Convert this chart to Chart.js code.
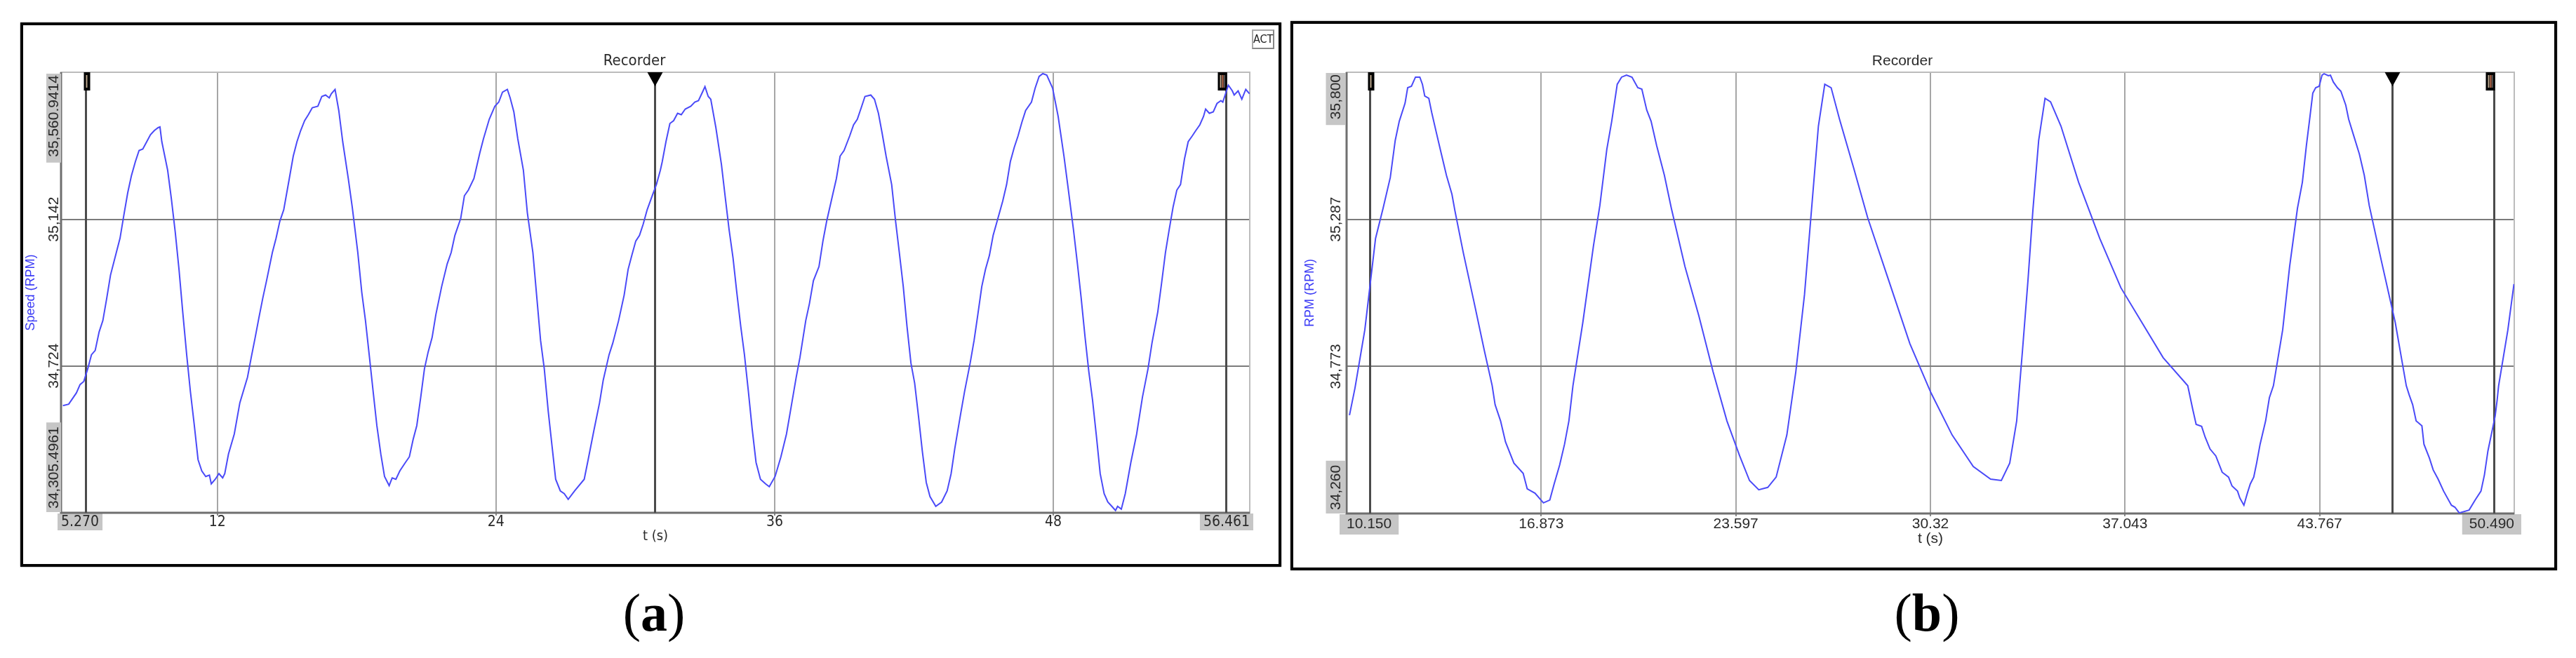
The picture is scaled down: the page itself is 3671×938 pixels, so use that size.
<!DOCTYPE html>
<html>
<head>
<meta charset="utf-8">
<script src="https://cdn.jsdelivr.net/npm/chart.js@4.4.1/dist/chart.umd.min.js"></script>
<style>
  html, body { margin: 0; padding: 0; background: #ffffff; }
  body { width: 3671px; height: 938px; position: relative; overflow: hidden; }
  canvas { position: absolute; left: 0; top: 0; }
  .panel { position: absolute; box-sizing: border-box; border: 4px solid #050505; box-shadow: 0 0 2px rgba(0,0,0,0.45); }
  .cap { position: absolute; font-family: 'Liberation Serif', 'Times New Roman', serif; font-size: 76px; line-height: 1; transform: translateX(-50%); white-space: nowrap; color: #000; }
  .cap b { font-weight: bold; }
  .act { position: absolute; left: 1784px; top: 42px; width: 32px; height: 28px; box-sizing: border-box; border: 2px solid #a8a8a8; border-right-color: #888; border-bottom-color: #888; font-family: 'Liberation Sans Narrow', 'DejaVu Sans Condensed', 'Liberation Sans', sans-serif; font-size: 16px; line-height: 24px; text-align: center; color: #222; }
</style>
</head>
<body>
<div class="panel" style="left:29px; top:32px; width:1797px; height:776px;"></div>
<div class="panel" style="left:1839px; top:30px; width:1805px; height:783px;"></div>
<canvas id="chartA" width="3671" height="938"></canvas>
<canvas id="chartB" width="3671" height="938"></canvas>
<div class="act">ACT</div>
<div class="cap" style="left:932px; top:835px;">(<b>a</b>)</div>
<div class="cap" style="left:2746px; top:835px;">(<b>b</b>)</div>

<script>
// ---------------- DATA ----------------
// Panel (a): Speed (RPM) versus t (s)
const speedA = [
  [5.35,34611],[5.60,34615],[5.93,34647],[6.09,34671],[6.25,34680],[6.42,34716],[6.58,34756],[6.74,34768],
  [6.91,34821],[7.07,34853],[7.24,34918],[7.40,34983],[7.65,35047],[7.81,35088],[7.97,35152],[8.14,35217],
  [8.30,35266],[8.47,35306],[8.63,35338],[8.79,35342],[8.96,35363],[9.12,35383],[9.29,35395],[9.45,35403],
  [9.53,35405],[9.61,35363],[9.86,35282],[10.02,35201],[10.19,35104],[10.35,34999],[10.51,34878],[10.68,34756],
  [10.84,34651],[11.01,34554],[11.17,34457],[11.33,34425],[11.50,34409],[11.66,34413],[11.74,34388],[11.91,34401],
  [12.07,34417],[12.23,34405],[12.32,34417],[12.48,34473],[12.73,34530],[12.97,34619],[13.30,34692],[13.46,34748],
  [13.63,34805],[13.79,34861],[13.96,34918],[14.12,34967],[14.37,35047],[14.53,35088],[14.69,35136],[14.86,35169],
  [15.10,35258],[15.27,35322],[15.43,35363],[15.59,35395],[15.76,35423],[15.92,35440],[16.09,35460],[16.33,35464],
  [16.50,35492],[16.66,35496],[16.82,35488],[16.91,35500],[17.07,35512],[17.23,35452],[17.40,35363],[17.64,35258],
  [17.81,35177],[18.05,35047],[18.22,34934],[18.38,34853],[18.54,34756],[18.71,34651],[18.87,34554],[19.04,34473],
  [19.20,34409],[19.40,34383],[19.53,34405],[19.69,34401],[19.86,34425],[20.10,34449],[20.27,34465],[20.43,34514],
  [20.59,34554],[20.76,34635],[20.92,34716],[21.08,34764],[21.25,34805],[21.41,34870],[21.66,34950],[21.90,35015],
  [22.07,35047],[22.23,35096],[22.48,35144],[22.64,35209],[22.81,35225],[23.05,35258],[23.30,35330],[23.46,35371],
  [23.71,35427],[23.95,35464],[24.12,35476],[24.28,35504],[24.49,35512],[24.61,35488],[24.77,35448],[24.94,35371],
  [25.18,35282],[25.35,35161],[25.59,35047],[25.76,34918],[25.92,34797],[26.08,34716],[26.25,34595],[26.41,34498],
  [26.57,34401],[26.77,34368],[26.94,34360],[27.11,34344],[27.39,34368],[27.80,34401],[27.97,34457],[28.21,34538],
  [28.46,34619],[28.62,34684],[28.87,34756],[29.03,34789],[29.28,34853],[29.52,34926],[29.69,34999],[29.85,35039],
  [30.02,35080],[30.18,35096],[30.34,35128],[30.51,35169],[30.75,35213],[30.91,35241],[31.08,35282],[31.16,35306],
  [31.32,35363],[31.49,35415],[31.65,35423],[31.82,35444],[31.98,35440],[32.15,35456],[32.39,35464],[32.56,35476],
  [32.72,35480],[32.89,35504],[33.00,35520],[33.14,35492],[33.25,35484],[33.47,35403],[33.71,35298],[33.88,35201],
  [34.04,35112],[34.21,35031],[34.37,34934],[34.54,34837],[34.70,34756],[34.87,34651],[35.03,34546],[35.20,34449],
  [35.39,34401],[35.61,34388],[35.77,34380],[36.02,34409],[36.27,34465],[36.51,34530],[36.68,34595],[36.93,34692],
  [37.09,34748],[37.34,34853],[37.50,34902],[37.67,34967],[37.91,35007],[38.08,35080],[38.24,35136],[38.49,35209],
  [38.66,35258],[38.82,35322],[38.99,35338],[39.23,35379],[39.40,35411],[39.56,35427],[39.73,35460],[39.89,35492],
  [40.14,35496],[40.30,35484],[40.47,35444],[40.63,35387],[40.80,35322],[41.04,35241],[41.21,35136],[41.37,35047],
  [41.54,34950],[41.70,34837],[41.87,34732],[42.03,34675],[42.20,34578],[42.36,34481],[42.53,34392],[42.69,34352],
  [42.94,34324],[43.19,34336],[43.43,34368],[43.60,34417],[43.76,34489],[44.01,34587],[44.18,34651],[44.42,34732],
  [44.59,34797],[44.75,34870],[44.92,34950],[45.08,34999],[45.25,35039],[45.41,35096],[45.58,35136],[45.82,35193],
  [45.99,35241],[46.15,35306],[46.32,35347],[46.48,35379],[46.65,35419],[46.81,35452],[47.06,35476],[47.22,35516],
  [47.39,35549],[47.55,35557],[47.72,35553],[47.97,35516],[48.21,35435],[48.46,35322],[48.62,35241],[48.87,35112],
  [49.04,35015],[49.20,34918],[49.37,34805],[49.53,34708],[49.69,34627],[49.86,34522],[50.02,34417],[50.19,34360],
  [50.35,34336],[50.52,34324],[50.68,34312],[50.77,34324],[50.93,34316],[51.10,34360],[51.34,34449],[51.59,34530],
  [51.84,34635],[52.08,34716],[52.25,34789],[52.50,34878],[52.66,34958],[52.83,35047],[52.99,35112],[53.16,35177],
  [53.32,35225],[53.48,35241],[53.65,35314],[53.81,35363],[53.98,35379],[54.14,35395],[54.31,35411],[54.47,35435],
  [54.56,35456],[54.72,35444],[54.89,35448],[55.05,35472],[55.22,35480],[55.30,35476],[55.46,35508],[55.54,35524],
  [55.71,35508],[55.79,35496],[55.96,35508],[56.12,35484],[56.29,35512],[56.45,35500]
];
const tickValsA = [5.270, 12, 24, 36, 48, 56.461];
const tickLabelsA = ['5.270', '12', '24', '36', '48', '56.461'];
const yTickValsA = [34305.4961, 34724, 35142, 35560.9414];
const yTickLabelsA = ['34,305.4961', '34,724', '35,142', '35,560.9414'];
const cursorsA = [6.34, 30.84, 55.42];

// Panel (b): RPM (RPM) versus t (s)
const rpmB = [
  [10.25,34603],[10.44,34698],[10.78,34901],[11.15,35220],[11.41,35325],[11.66,35433],[11.83,35562],[11.97,35629],
  [12.17,35692],[12.26,35746],[12.39,35751],[12.53,35783],[12.68,35783],[12.77,35758],[12.85,35717],[12.99,35709],
  [13.09,35660],[13.24,35594],[13.41,35521],[13.60,35440],[13.79,35374],[13.89,35318],[14.18,35171],[14.55,34999],
  [14.91,34828],[15.18,34706],[15.28,34640],[15.47,34583],[15.64,34510],[15.93,34436],[16.25,34400],[16.39,34346],
  [16.66,34331],[16.95,34297],[17.17,34307],[17.32,34363],[17.51,34429],[17.68,34502],[17.83,34583],[17.97,34706],
  [18.31,34926],[18.68,35195],[18.90,35335],[19.14,35531],[19.31,35629],[19.50,35758],[19.65,35783],[19.82,35790],
  [20.01,35783],[20.21,35746],[20.35,35741],[20.52,35668],[20.67,35629],[20.86,35545],[21.13,35440],[21.37,35325],
  [21.84,35122],[22.32,34950],[22.81,34755],[23.29,34583],[23.73,34461],[24.07,34375],[24.39,34343],[24.70,34351],
  [24.99,34387],[25.36,34534],[25.67,34755],[25.97,35024],[26.21,35318],[26.45,35612],[26.67,35758],[26.89,35746],
  [27.18,35636],[27.67,35465],[28.15,35293],[28.88,35073],[29.61,34853],[30.34,34681],[31.07,34534],[31.80,34424],
  [32.40,34380],[32.77,34375],[33.06,34436],[33.30,34583],[33.50,34828],[33.69,35073],[33.86,35318],[34.06,35562],
  [34.28,35709],[34.47,35697],[34.83,35612],[35.44,35416],[36.17,35220],[36.90,35048],[37.63,34926],[38.36,34804],
  [39.21,34706],[39.38,34625],[39.50,34571],[39.69,34564],[39.81,34527],[39.98,34485],[40.18,34461],[40.40,34404],
  [40.62,34387],[40.74,34356],[40.93,34338],[41.01,34314],[41.15,34289],[41.27,34331],[41.37,34363],[41.49,34387],
  [41.59,34436],[41.71,34502],[41.90,34583],[42.03,34664],[42.17,34706],[42.49,34901],[42.73,35122],[43.00,35325],
  [43.17,35416],[43.31,35545],[43.43,35643],[43.53,35727],[43.63,35746],[43.75,35751],[43.85,35790],[43.92,35795],
  [44.07,35788],[44.14,35790],[44.24,35766],[44.38,35746],[44.50,35734],[44.67,35685],[44.77,35636],[44.94,35580],
  [45.14,35514],[45.31,35440],[45.48,35335],[45.89,35146],[46.38,34926],[46.76,34706],[46.86,34674],[46.98,34640],
  [47.10,34583],[47.30,34566],[47.37,34502],[47.56,34453],[47.69,34412],[47.86,34380],[48.05,34338],[48.32,34289],
  [48.44,34282],[48.59,34262],[48.93,34272],[49.14,34307],[49.34,34338],[49.46,34395],[49.58,34478],[49.73,34551],
  [49.83,34600],[49.90,34657],[49.95,34706],[50.27,34901],[50.48,35061]
];
const tickValsB = [10.150, 16.873, 23.597, 30.32, 37.043, 43.767, 50.490];
const tickLabelsB = ['10.150', '16.873', '23.597', '30.32', '37.043', '43.767', '50.490'];
const yTickValsB = [34260, 34773.33, 35286.67, 35800];
const yTickLabelsB = ['34,260', '34,773', '35,287', '35,800'];
const cursorsB = [10.95, 46.28, 49.78];

const cursorKinds = ['left', 'tri', 'right'];

// ---------------- DECORATION PLUGIN ----------------
const recorderDecor = {
  id: 'recorderDecor',
  beforeDatasetsDraw(chart, args, o) {
    const { ctx, chartArea: a, scales: { x } } = chart;
    ctx.save();
    ctx.strokeStyle = '#bcbcbc';
    ctx.lineWidth = 2;
    ctx.strokeRect(a.left, a.top, a.right - a.left, a.bottom - a.top);
    ctx.strokeStyle = '#6f6f6f';
    ctx.lineWidth = 3;
    ctx.beginPath();
    ctx.moveTo(a.left, a.top);
    ctx.lineTo(a.left, a.bottom);
    ctx.lineTo(a.right, a.bottom);
    ctx.stroke();
    o.cursors.forEach((t, i) => {
      const px = Math.round(x.getPixelForValue(t)) + 0.5;
      ctx.strokeStyle = '#4b4b4b';
      ctx.lineWidth = 3;
      ctx.beginPath();
      ctx.moveTo(px, a.top);
      ctx.lineTo(px, a.bottom);
      ctx.stroke();
      const kind = cursorKinds[i];
      ctx.fillStyle = '#000';
      if (kind === 'tri') {
        ctx.beginPath();
        ctx.moveTo(px - 11, a.top);
        ctx.lineTo(px + 11, a.top);
        ctx.lineTo(px, a.top + 20);
        ctx.closePath();
        ctx.fill();
      } else {
        const w = kind === 'left' ? 9 : 13;
        const x0 = kind === 'left' ? px - 3 : px - 12;
        ctx.fillRect(x0, a.top, w, 26);
        ctx.fillStyle = '#b9a58c';
        if (kind === 'left') {
          ctx.fillRect(x0 + 3, a.top + 4, 2, 18);
        } else {
          ctx.fillRect(x0 + 3, a.top + 4, 2, 18);
          ctx.fillStyle = '#c07050';
          ctx.fillRect(x0 + 6, a.top + 4, 2, 18);
          ctx.fillStyle = '#9a9a9a';
          ctx.fillRect(x0 + 9, a.top + 4, 1, 18);
        }
      }
    });
    ctx.restore();
  },
  afterDraw(chart, args, o) {
    const { ctx, chartArea: a, scales: { y } } = chart;
    ctx.save();
    ctx.font = o.yFont;
    const last = o.yLabels.length - 1;
    o.yLabels.forEach((lab, i) => {
      const w = ctx.measureText(lab).width;
      let ay, align;
      if (i === 0) { ay = a.bottom - o.yEdgeInset[0]; align = 'left'; }
      else if (i === last) { ay = a.top + o.yEdgeInset[1]; align = 'right'; }
      else { ay = y.getPixelForValue(o.yVals[i]); align = 'center'; }
      ctx.save();
      ctx.translate(a.left + o.yLabelDX, ay);
      ctx.rotate(-Math.PI / 2);
      if (i === 0 || i === last) {
        ctx.fillStyle = '#c6c6c6';
        const hw = o.yBoxHalf;
        if (i === 0) ctx.fillRect(-5, -hw, w + 11, hw * 2);
        else ctx.fillRect(-w - 8, -hw, w + 10, hw * 2);
      }
      ctx.fillStyle = '#2a2a2a';
      ctx.textAlign = align;
      ctx.textBaseline = 'middle';
      ctx.fillText(lab, 0, 1);
      ctx.restore();
    });
    ctx.font = o.titleFont;
    ctx.fillStyle = '#2a2a2a';
    ctx.textAlign = 'center';
    ctx.textBaseline = 'middle';
    ctx.fillText(o.title, o.titleX, o.titleY);
    ctx.restore();
  }
};

function buildChart(id, spec) {
  const lastX = spec.xVals.length - 1;
  const lastY = spec.yVals.length - 1;
  return new Chart(document.getElementById(id), {
    type: 'line',
    data: {
      datasets: [{
        data: spec.points.map(p => ({ x: p[0], y: p[1] })),
        borderColor: '#4a4af8',
        borderWidth: 2,
        pointRadius: 0,
        tension: 0,
        fill: false
      }]
    },
    options: {
      responsive: false,
      animation: false,
      devicePixelRatio: 1,
      events: [],
      layout: { padding: spec.padding },
      plugins: {
        legend: { display: false },
        title: { display: false },
        tooltip: { enabled: false },
        recorderDecor: {
          cursors: spec.cursors,
          yLabels: spec.yLabels,
          yVals: spec.yVals,
          yFont: '21px "Liberation Sans", Arial, sans-serif',
          yLabelDX: spec.yLabelDX,
          yBoxHalf: spec.yBoxHalf,
          yEdgeInset: spec.yEdgeInset,
          title: 'Recorder',
          titleFont: spec.titleFont,
          titleX: spec.titleX,
          titleY: 87
        }
      },
      scales: {
        x: {
          type: 'linear',
          min: spec.xVals[0],
          max: spec.xVals[lastX],
          afterBuildTicks: s => { s.ticks = spec.xVals.map(v => ({ value: v })); },
          afterFit: s => { s.height = 50; },
          border: { display: false },
          grid: {
            color: c => (c.index === 0 || c.index === lastX) ? 'rgba(0,0,0,0)' : '#a6a6a6',
            lineWidth: 2,
            drawTicks: true,
            tickLength: 4,
            tickColor: c => (c.index === 0 || c.index === lastX) ? 'rgba(0,0,0,0)' : '#8a8a8a'
          },
          ticks: {
            autoSkip: false,
            maxRotation: 0,
            minRotation: 0,
            align: 'inner',
            padding: spec.xTickPad,
            color: '#2a2a2a',
            font: spec.xFont,
            callback: (v, i) => spec.xLabels[i],
            showLabelBackdrop: c => c.index === 0 || c.index === lastX,
            backdropColor: '#c6c6c6',
            backdropPadding: spec.xBackdropPad
          },
          title: {
            display: true,
            text: 't (s)',
            color: '#2a2a2a',
            font: spec.xTitleFont,
            padding: { top: 0, bottom: spec.xTitlePadBottom }
          }
        },
        y: {
          type: 'linear',
          min: spec.yVals[0],
          max: spec.yVals[lastY],
          afterBuildTicks: s => { s.ticks = spec.yVals.map(v => ({ value: v })); },
          afterFit: s => { s.width = spec.yAxisW; },
          border: { display: false },
          grid: {
            color: c => (c.index === 0 || c.index === lastY) ? 'rgba(0,0,0,0)' : '#7b7b7b',
            lineWidth: 2,
            drawTicks: false
          },
          ticks: { display: false },
          title: {
            display: true,
            text: spec.yTitle,
            color: '#3b3bf5',
            font: { family: '"Liberation Sans", Arial, sans-serif', size: 18 },
            padding: { top: spec.yTitlePadTop, bottom: 0 }
          }
        }
      }
    },
    plugins: [recorderDecor]
  });
}

const W = 3671, H = 938;

buildChart('chartA', {
  points: speedA,
  xVals: tickValsA, xLabels: tickLabelsA,
  yVals: yTickValsA, yLabels: yTickLabelsA,
  cursors: cursorsA,
  yTitle: 'Speed (RPM)',
  yAxisW: 60,
  yTitlePadTop: 6,
  padding: { left: 87 - 60, right: W - 1781, top: 103, bottom: H - 731 - 50 },
  xFont: { family: '"Liberation Sans Narrow", "DejaVu Sans Condensed", "Liberation Sans", sans-serif', size: 21, lineHeight: 1 },
  xTitleFont: { family: '"Liberation Sans Narrow", "DejaVu Sans Condensed", "Liberation Sans", sans-serif', size: 20 },
  xTickPad: -1,
  xBackdropPad: { top: 2, bottom: 1, left: 5, right: 5 },
  xTitlePadBottom: 4,
  yLabelDX: -10.5,
  yBoxHalf: 10.5,
  yEdgeInset: [6, 4],
  titleFont: '22px "Liberation Sans Narrow", "DejaVu Sans Condensed", "Liberation Sans", sans-serif',
  titleX: 904
});

buildChart('chartB', {
  points: rpmB,
  xVals: tickValsB, xLabels: tickLabelsB,
  yVals: yTickValsB, yLabels: yTickLabelsB,
  cursors: cursorsB,
  yTitle: 'RPM (RPM)',
  yAxisW: 70,
  yTitlePadTop: 7,
  padding: { left: 1919 - 70, right: W - 3583, top: 103, bottom: H - 732 - 50 },
  xFont: { family: '"Liberation Sans", Arial, sans-serif', size: 21, lineHeight: 1 },
  xTitleFont: { family: '"Liberation Sans", Arial, sans-serif', size: 21 },
  xTickPad: 1,
  xBackdropPad: { top: 4, bottom: 4, left: 10, right: 10 },
  xTitlePadBottom: 1,
  yLabelDX: -15.5,
  yBoxHalf: 14,
  yEdgeInset: [5, 3],
  titleFont: '21px "Liberation Sans", Arial, sans-serif',
  titleX: 2711
});
</script>
</body>
</html>
